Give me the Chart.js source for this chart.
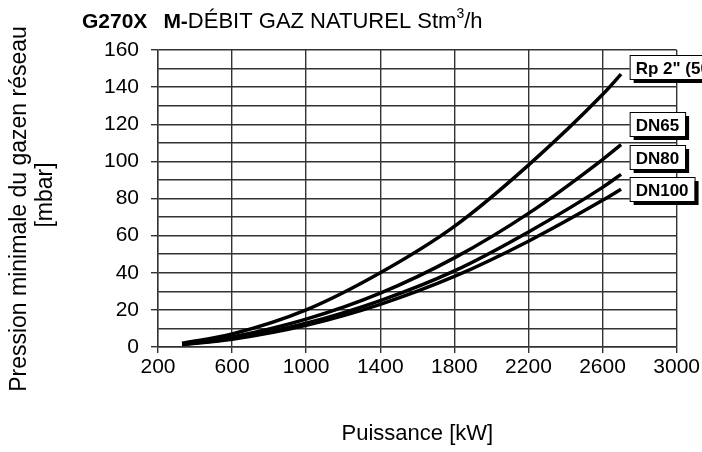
<!DOCTYPE html>
<html>
<head>
<meta charset="utf-8">
<style>
  body { margin: 0; background: #fff; }
  #wrap { width: 702px; height: 452px; }
</style>
<script src="https://cdn.jsdelivr.net/npm/chart.js@4.4.0/dist/chart.umd.min.js"></script>
</head>
<body>
<div id="wrap"><canvas id="chart" width="702" height="452"></canvas></div>
<script>
// --- data ---
const power = [330, 600, 1000, 1400, 1800, 2200, 2600, 2700];
const rp2   = [2, 7, 20, 40, 65, 98, 136, 147];
const dn65  = [1.6, 5.4, 15, 29, 48, 72, 101, 109];
const dn80  = [1.4, 4.6, 12.8, 25, 41, 62, 86, 93];
const dn100 = [1.3, 4.2, 11.7, 23, 38, 57, 79, 85];
const seriesNames = ['Rp 2" (50)', 'DN65', 'DN80', 'DN100'];
const xTicks = [200, 600, 1000, 1400, 1800, 2200, 2600, 3000];

const FONT = '"Liberation Sans", Arial, sans-serif';

function toPoints(ys) {
  return power.map((x, i) => ({ x: x, y: ys[i] }));
}

// title, axis titles and the boxed series labels
const decorPlugin = {
  id: 'decor',
  afterDraw(chart) {
    const ctx = chart.ctx;
    const area = chart.chartArea;
    const yScale = chart.scales.y;
    ctx.save();
    ctx.fillStyle = '#000';
    ctx.textBaseline = 'alphabetic';

    // title with mixed weights
    let x = 82;
    const base = 28;
    ctx.font = 'bold 21px ' + FONT;
    ctx.fillText('G270X', x, base);
    x += ctx.measureText('G270X').width + 16;
    ctx.fillText('M-', x, base);
    x += ctx.measureText('M-').width;
    ctx.font = '22px ' + FONT;
    ctx.fillText('DÉBIT GAZ NATUREL Stm', x, base);
    x += ctx.measureText('DÉBIT GAZ NATUREL Stm').width;
    ctx.font = '14px ' + FONT;
    ctx.fillText('3', x, base - 10);
    x += ctx.measureText('3').width;
    ctx.font = '22px ' + FONT;
    ctx.fillText('/h', x, base);

    // y axis title (two lines, rotated)
    ctx.font = '23px ' + FONT;
    ctx.textAlign = 'center';
    ctx.save();
    ctx.translate(26, 209);
    ctx.rotate(-Math.PI / 2);
    ctx.fillText('Pression minimale du gazen réseau', 0, 0);
    ctx.restore();
    ctx.save();
    ctx.translate(52, 195);
    ctx.rotate(-Math.PI / 2);
    ctx.fillText('[mbar]', 0, 0);
    ctx.restore();

    // x axis title
    ctx.font = '22px ' + FONT;
    ctx.fillText('Puissance [kW]', (area.left + area.right) / 2, 440);

    // boxed labels at the curve ends
    const labelAt = [151, 120, 102.5, 85];
    ctx.textAlign = 'left';
    ctx.font = 'bold 17px ' + FONT;
    seriesNames.forEach((name, i) => {
      const cy = yScale.getPixelForValue(labelAt[i]);
      const w = ctx.measureText(name).width + 12;
      const h = 24;
      const bx = area.right - 47;
      const by = Math.round(cy - h / 2);
      ctx.fillStyle = '#000';
      ctx.fillRect(bx + 4, by + 4, w, h);
      ctx.fillStyle = '#fff';
      ctx.fillRect(bx, by, w, h);
      ctx.strokeStyle = '#000';
      ctx.lineWidth = 1;
      ctx.strokeRect(bx + 0.5, by + 0.5, w, h);
      ctx.fillStyle = '#000';
      ctx.fillText(name, bx + 6, by + 19);
    });
    ctx.restore();
  }
};

const lineStyle = {
  borderColor: '#000',
  borderWidth: 3.5,
  pointRadius: 0,
  fill: false,
  cubicInterpolationMode: 'monotone'
};

new Chart(document.getElementById('chart'), {
  type: 'line',
  data: {
    datasets: [
      { label: seriesNames[0], data: toPoints(rp2), ...lineStyle },
      { label: seriesNames[1], data: toPoints(dn65), ...lineStyle },
      { label: seriesNames[2], data: toPoints(dn80), ...lineStyle },
      { label: seriesNames[3], data: toPoints(dn100), ...lineStyle }
    ]
  },
  options: {
    responsive: false,
    animation: false,
    layout: { padding: { top: 50, right: 23, left: 0, bottom: 0 } },
    plugins: { legend: { display: false }, tooltip: { enabled: false } },
    scales: {
      x: {
        type: 'linear',
        min: 200,
        max: 3000,
        afterBuildTicks: (s) => { s.ticks = xTicks.map(v => ({ value: v })); },
        afterFit: (s) => { s.height = 105; },
        ticks: {
          autoSkip: false,
          maxRotation: 0,
          color: '#000',
          font: { family: FONT, size: 21 },
          padding: 2,
          callback: (v) => String(v)
        },
        grid: { color: '#333', lineWidth: 1.4, tickLength: 6 },
        border: { color: '#333', width: 1.4 }
      },
      y: {
        min: 0,
        max: 160,
        afterFit: (s) => { s.width = 158; },
        ticks: {
          stepSize: 10,
          autoSkip: false,
          color: '#000',
          font: { family: FONT, size: 21 },
          padding: 12,
          callback: (v) => (v % 20 === 0 ? v : '')
        },
        grid: {
          color: '#333',
          lineWidth: 1.4,
          tickLength: 7,
          tickColor: (c) => (c.tick && c.tick.value % 20 === 0 ? '#333' : 'rgba(0,0,0,0)')
        },
        border: { color: '#333', width: 1.4 }
      }
    }
  },
  plugins: [decorPlugin]
});
</script>
</body>
</html>
